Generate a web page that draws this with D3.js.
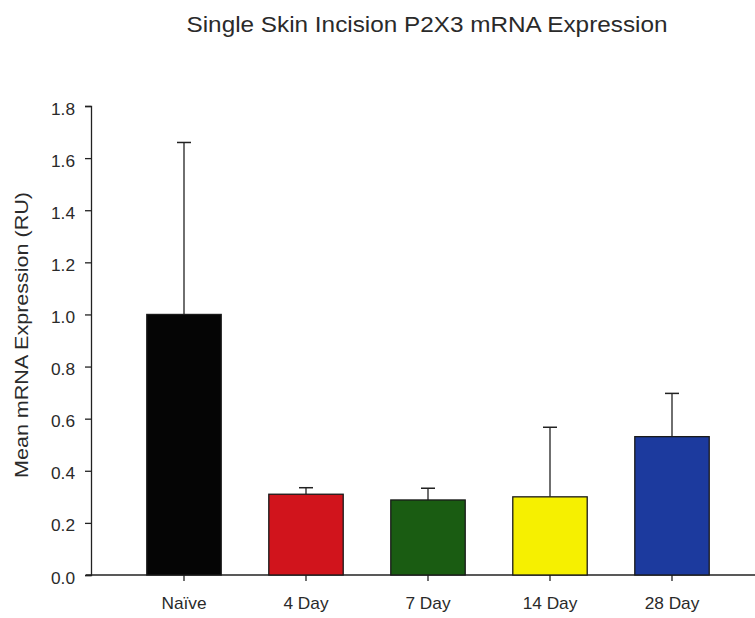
<!DOCTYPE html>
<html>
<head>
<meta charset="utf-8">
<script src="https://cdn.jsdelivr.net/npm/d3@7"></script>
<style>
  html, body { margin: 0; padding: 0; background: #fff; }
  svg { display: block; }
  text { font-family: "Liberation Sans", Arial, sans-serif; fill: #2a2a2a; }
</style>
</head>
<body>
<svg id="chart" width="755" height="618"></svg>
<script>
// P2X3 mRNA expression after a single skin incision, mean with upper error bar
const groups = ["Naïve", "4 Day", "7 Day", "14 Day", "28 Day"];
const means = [1.0, 0.31, 0.288, 0.30, 0.531];
const errorTops = [1.66, 0.335, 0.333, 0.567, 0.697];
const barColors = ["#050505", "#d1141c", "#1a5c12", "#f6f000", "#1c3a9e"];
const yTicks = [0.0, 0.2, 0.4, 0.6, 0.8, 1.0, 1.2, 1.4, 1.6, 1.8];

const svg = d3.select("#chart");

const y = d3.scaleLinear().domain([0, 1.8]).range([575, 106]);
const x = d3.scaleBand().domain(groups).range([123, 733])
  .paddingInner(0.39).paddingOuter(0.195);

// Labels use a slightly widened sans face
const stretch = 1.08;

// Title
svg.append("text")
  .attr("x", 427).attr("y", 32)
  .attr("text-anchor", "middle")
  .style("font-size", "22px")
  .attr("textLength", 481)
  .attr("lengthAdjust", "spacingAndGlyphs")
  .text("Single Skin Incision P2X3 mRNA Expression");

// Y axis
const yAxis = svg.append("g")
  .attr("transform", "translate(91,0)")
  .call(d3.axisLeft(y).tickValues(yTicks).tickFormat(d3.format(".1f")).tickSize(6).tickPadding(10));
yAxis.select(".domain").attr("stroke", "#222").attr("stroke-width", 1.3);
yAxis.selectAll(".tick line").attr("stroke", "#222").attr("stroke-width", 1.3);
yAxis.selectAll(".tick text")
  .style("font-size", "16px")
  .attr("fill", "#2a2a2a")
  .attr("dy", "0.5em")
  .attr("x", -16 / stretch)
  .attr("transform", `scale(${stretch},1)`);

// X axis: baseline runs to the right edge
svg.append("line")
  .attr("x1", 86).attr("x2", 755)
  .attr("y1", y(0)).attr("y2", y(0))
  .attr("stroke", "#222").attr("stroke-width", 1.3);
const xAxis = svg.append("g")
  .attr("transform", `translate(0,${y(0)})`)
  .call(d3.axisBottom(x).tickSize(6).tickPadding(17));
xAxis.select(".domain").remove();
xAxis.selectAll(".tick line").attr("stroke", "#222").attr("stroke-width", 1.3);
xAxis.selectAll(".tick text")
  .style("font-size", "16px")
  .attr("fill", "#2a2a2a")
  .attr("transform", `scale(${stretch},1)`);

// Y axis title
svg.append("text")
  .attr("transform", `translate(28,335) rotate(-90)`)
  .attr("text-anchor", "middle")
  .style("font-size", "18px")
  .attr("textLength", 286)
  .attr("lengthAdjust", "spacingAndGlyphs")
  .text("Mean mRNA Expression (RU)");

// Error bars (upper only), drawn behind bars
const errG = svg.append("g");
groups.forEach((g, i) => {
  const cx = x(g) + x.bandwidth() / 2;
  errG.append("line")
    .attr("x1", cx).attr("x2", cx)
    .attr("y1", y(means[i])).attr("y2", y(errorTops[i]))
    .attr("stroke", "#222").attr("stroke-width", 1.3);
  errG.append("line")
    .attr("x1", cx - 7).attr("x2", cx + 7)
    .attr("y1", y(errorTops[i])).attr("y2", y(errorTops[i]))
    .attr("stroke", "#222").attr("stroke-width", 1.5);
});

// Bars
svg.append("g").selectAll("rect")
  .data(groups)
  .join("rect")
  .attr("x", d => x(d))
  .attr("width", x.bandwidth())
  .attr("y", (d, i) => y(means[i]))
  .attr("height", (d, i) => y(0) - y(means[i]))
  .attr("fill", (d, i) => barColors[i])
  .attr("stroke", "#1a1a1a")
  .attr("stroke-width", 1.3);
</script>
</body>
</html>
